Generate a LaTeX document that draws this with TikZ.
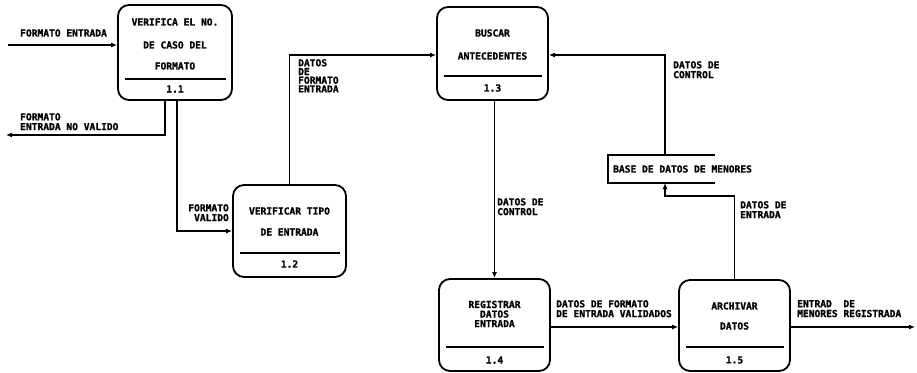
\documentclass[tikz,border=0pt]{standalone}
\usepackage{fontspec}
\setmainfont{DejaVu Sans Mono}[BoldFeatures={FakeBold=1.2}]
\usetikzlibrary{arrows.meta}
\tikzset{
  proc/.style={draw, line width=1.8pt, rounded corners=11pt, minimum width=111pt, minimum height=92pt, inner sep=0pt},
  txt/.style={font=\bfseries\fontsize{9.6}{9.6}\selectfont, inner sep=0pt, align=center},
  lbl/.style={font=\bfseries\fontsize{9.6}{9.8}\selectfont, inner sep=0pt, align=left},
  flow/.style={line width=1.3pt, -{Latex[length=6pt,width=5pt]}},
  divider/.style={line width=1.3pt}
}
\begin{document}
\begin{tikzpicture}[x=1pt,y=-1pt]
\useasboundingbox (0,0) rectangle (917,372);
% processes
\node[proc, minimum width=114pt, minimum height=95pt] (b11) at (175,52.5) {};
\node[proc, minimum width=113pt] (b12) at (289.5,231) {};
\node[proc, minimum height=93pt] (b13) at (492.5,53.5) {};
\node[proc] (b14) at (494.5,325) {};
\node[proc, minimum height=91pt] (b15) at (734.5,325.5) {};
% dividers
\draw[divider] (125,79) -- (226,79);
\draw[divider] (240,253) -- (340,253);
\draw[divider] (444,76) -- (542,76);
\draw[divider] (446,347) -- (544,347);
\draw[divider] (686,347) -- (784,347);
% box texts
\node[txt] (t11a) at (175,22) {VERIFICA EL NO.};
\node[txt] (t11b) at (175,45) {DE CASO DEL};
\node[txt] (t11c) at (175,66) {FORMATO};
\node[txt] (t11n) at (175,89) {1.1};
\node[txt] (t12a) at (289.5,211) {VERIFICAR TIPO};
\node[txt] (t12b) at (289.5,232) {DE ENTRADA};
\node[txt] (t12n) at (289.5,264) {1.2};
\node[txt] (t13a) at (492.5,33) {BUSCAR};
\node[txt] (t13b) at (492.5,56) {ANTECEDENTES};
\node[txt] (t13n) at (492.5,88) {1.3};
\node[txt] (t14a) at (494.5,314) {REGISTRAR\\DATOS\\ENTRADA};
\node[txt] (t14n) at (494.5,360) {1.4};
\node[txt] (t15a) at (734.5,306) {ARCHIVAR};
\node[txt] (t15b) at (734.5,326) {DATOS};
\node[txt] (t15n) at (734.5,360) {1.5};
% data store
\node[txt, anchor=west] (store) at (613,169) {BASE DE DATOS DE MENORES};
\coordinate (stTL) at (608,155);
\coordinate (stBL) at (608,183);
\draw[line width=1.6pt] (715,155) -- (stTL) -- (stBL) -- (715,183);
\coordinate (stTop) at (665,155);
\coordinate (stBot) at (665,183);
% free ends
\coordinate (inA) at (8,45);
\coordinate (outA) at (6,135);
\coordinate (outB) at (915,327);
% connectors
\draw[flow] (inA) -- (inA -| b11.west);
\draw[flow] (b11.south -| 165,0) |- (outA);
\draw[flow] (b11.south -| 177,0) |- (b12.west);
\draw[flow] (b12.north) |- (b13.west |- 0,55);
\draw[flow] (stTop) |- (b13.east |- 0,55);
\draw[flow] (b15.north) |- (665,196) -- (stBot);
\draw[flow] (b13.south -| 494.5,0) -- (b14.north);
\draw[flow] (b14.east |- 0,327) -- (b15.west |- 0,327);
\draw[flow] (b15.east |- 0,327) -- (outB);
% labels
\node[lbl, anchor=west] (l1) at (20,33) {FORMATO ENTRADA};
\node[lbl, anchor=north west] (l2) at (20,113) {FORMATO\\ENTRADA NO VALIDO};
\node[lbl, anchor=north east, align=right] (l3) at (229,204) {FORMATO\\VALIDO};
\node[lbl, anchor=north west, font=\bfseries\fontsize{9.6}{8.7}\selectfont] (l4) at (298,59) {DATOS\\DE\\FORMATO\\ENTRADA};
\node[lbl, anchor=north west] (l5) at (673,61) {DATOS DE\\CONTROL};
\node[lbl, anchor=north west] (l6) at (497,198) {DATOS DE\\CONTROL};
\node[lbl, anchor=north west] (l7) at (740,201) {DATOS DE\\ENTRADA};
\node[lbl, anchor=north west] (l8) at (556,300) {DATOS DE FORMATO\\DE ENTRADA VALIDADOS};
\node[lbl, anchor=north west] (l9) at (797,300) {ENTRAD\ \ DE\\MENORES REGISTRADA};
\end{tikzpicture}
\end{document}
